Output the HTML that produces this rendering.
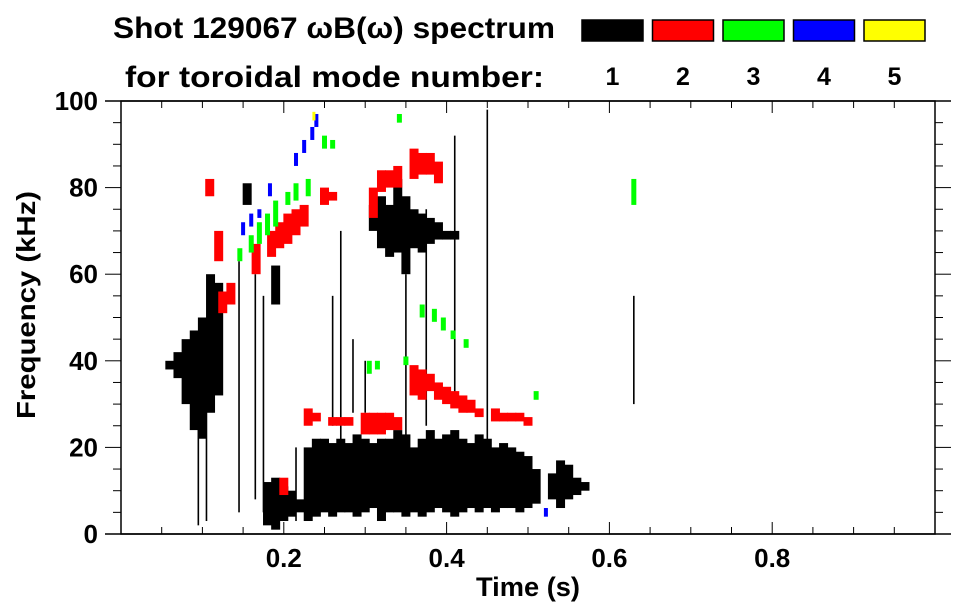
<!DOCTYPE html>
<html><head><meta charset="utf-8">
<style>
html,body{margin:0;padding:0;background:#fff;}
svg{display:block;font-family:"Liberation Sans",sans-serif;font-weight:bold;}
</style></head>
<body>
<svg id="chart" width="963" height="615" viewBox="0 0 963 615" xmlns="http://www.w3.org/2000/svg">
<text x="113" y="38" font-size="30" textLength="442" lengthAdjust="spacingAndGlyphs">Shot 129067 ωB(ω) spectrum</text>
<text x="125" y="87" font-size="30" textLength="419" lengthAdjust="spacingAndGlyphs">for toroidal mode number:</text>
<g id="legend"></g>
<g id="marks"></g>
<g id="axes"></g>
<text x="528" y="596" font-size="27" text-anchor="middle" textLength="104" lengthAdjust="spacingAndGlyphs">Time (s)</text>
<text transform="translate(35,305) rotate(-90)" font-size="26" text-anchor="middle" textLength="228" lengthAdjust="spacingAndGlyphs">Frequency (kHz)</text>
</svg>
<script>
// ---- data ----
const modeNames = ["1","2","3","4","5"];
const modeColors = ["#000000","#ff0000","#00ff00","#0000ff","#ffff00"];
const xTicks = [0.2,0.4,0.6,0.8];
const yTicks = [0,20,40,60,80,100];
// mode 1 (black) columns: time, low freq, high freq
const m1T  = [0.06,0.07,0.08,0.09,0.10,0.11,0.12, 0.18,0.19,0.20,0.21,0.22,
  0.23,0.24,0.25,0.26,0.27,0.28,0.29,0.30,0.31,0.32,0.33,0.34,0.35,0.36,0.37,0.38,0.39,0.40,0.41,0.42,0.43,0.44,0.45,0.46,0.47,0.48,0.49,0.50,0.51,
  0.53,0.54,0.55,0.56,0.57,
  0.31,0.32,0.33,0.34,0.35,0.36,0.37,0.38,0.39,0.40,0.41, 0.155,0.19];
const m1Lo = [38,36,30,24,22,28,32, 2,1,3,4,5,
  3,4,5,4,5,5,4,5,6,3,5,5,4,5,4,5,6,5,4,5,6,5,6,5,6,6,5,6,7,
  8,6,8,9,10,
  70,66,64,65,60,66,65,67,68,68,68, 76,53];
const m1Hi = [40,42,45,47,50,60,58, 12,13,11,10,8,
  20,22,22,21,22,21,23,22,21,22,22,24,23,20,22,24,22,23,24,22,21,23,22,20,21,20,19,18,15,
  14,17,16,13,12,
  76,78,76,82,78,75,74,73,72,70,70, 81,62];
// mode 1 thin streaks
const s1T  = [0.45,0.41,0.375,0.35,0.27,0.26,0.285,0.30,0.145,0.165,0.175,0.095,0.63,0.105,0.215];
const s1Lo = [20,30,25,20,20,25,28,28,5,8,5,2,30,3,3];
const s1Hi = [98,92,75,60,70,55,45,40,63,60,55,35,55,40,20];
// mode 2 (red)
const m2T  = [0.109,0.12,0.125,0.135,0.166,0.185,0.195,0.205,0.215,0.225,0.25,0.26,0.31,0.32,0.33,0.34,0.36,0.37,0.38,0.39,
  0.23,0.24,0.26,0.27,0.28,0.30,0.31,0.32,0.33,0.34,0.36,0.37,0.38,0.39,0.40,0.41,0.42,0.43,0.44,0.46,0.47,0.48,0.49,0.50,0.20];
const m2Lo = [78,63,51,53,60,64,66,67,69,71,76,77,73,79,80,80,82,83,83,81,
  25,26,25,25,25,23,23,23,24,24,32,31,33,31,30,29,28,28,27,26,26,26,26,25,9];
const m2Hi = [82,70,56,58,67,70,72,74,75,76,80,79,80,84,84,85,89,88,88,86,
  29,28,27,27,27,28,28,28,28,27,39,38,37,35,34,33,32,31,29,29,28,28,28,27,13];
// mode 3 (green)
const m3T  = [0.146,0.16,0.17,0.18,0.19,0.205,0.215,0.23,0.25,0.26,0.342,0.37,0.385,0.396,0.408,0.424,0.35,0.305,0.315,0.51,0.63];
const m3Lo = [63,65,67,69,71,76,77,78,89,89,95,50,49,47,45,43,39,37,38,31,76];
const m3Hi = [66,69,72,74,77,79,81,82,92,91,97,53,52,50,47,45,41,40,40,33,82];
// mode 4 (blue)
const m4T  = [0.15,0.16,0.17,0.183,0.215,0.225,0.235,0.24,0.522];
const m4Lo = [69,71,73,78,85,88,91,94,4];
const m4Hi = [72,74,75,81,88,91,94,97,6];
// mode 5 (yellow)
const m5T = [0.237]; const m5Lo = [95.5]; const m5Hi = [97.5];

// ---- scales ----
const L=121,R=935,T=101,B=534;
const xs = t => L + t*(R-L);
const ys = f => B - f*(B-T)/100;
const NS="http://www.w3.org/2000/svg";
function mk(tag, attrs, parent){const e=document.createElementNS(NS,tag);for(const k in attrs)e.setAttribute(k,attrs[k]);parent.appendChild(e);return e;}

// legend
const lg=document.getElementById('legend');
modeNames.forEach((n,i)=>{
  const x=582+i*70.5;
  const r=mk('rect',{x:x,y:20,width:61,height:21,fill:modeColors[i],stroke:'#000','stroke-width':1.5},lg);
  
  
  const t=mk('text',{x:x+30.5,y:85,'font-size':25,'text-anchor':'middle'},lg);
  t.textContent=n;
  
  
});

// marks
const mg=document.getElementById('marks');
function cols(T_,Lo,Hi,color,w,name){
  T_.forEach((t,i)=>{
    const r=mk('rect',{x:xs(t)-w/2,y:ys(Hi[i]),width:w,height:ys(Lo[i])-ys(Hi[i]),fill:color},mg);
    
    
  });
}
cols(s1T,s1Lo,s1Hi,'#000',1.6,'mode1-streak');
cols(m1T,m1Lo,m1Hi,'#000',9,'mode1-column');
cols(m2T,m2Lo,m2Hi,'#ff0000',9,'mode2-column');
cols(m3T,m3Lo,m3Hi,'#00ff00',5,'mode3-column');
cols(m4T,m4Lo,m4Hi,'#0000ff',4,'mode4-column');
cols(m5T,m5Lo,m5Hi,'#ffff00',3,'mode5-column');

// axes
const ax=document.getElementById('axes');
mk('rect',{x:L,y:T,width:R-L,height:B-T,fill:'none',stroke:'#000','stroke-width':1.5},ax);
mk('line',{x1:105,y1:B,x2:R+16,y2:B,stroke:'#000','stroke-width':1.5},ax);
mk('line',{x1:105,y1:T,x2:R+16,y2:T,stroke:'#000','stroke-width':1.5},ax);
for(let k=1;k<20;k++){const t=k*0.05;const big=k%4===0;
  mk('line',{x1:xs(t),y1:B,x2:xs(t),y2:B-(big?12:7),stroke:'#000','stroke-width':1},ax);
  mk('line',{x1:xs(t),y1:T,x2:xs(t),y2:T+(big?12:7),stroke:'#000','stroke-width':1},ax);}
for(let k=1;k<20;k++){const f=k*5;const big=k%4===0;
  mk('line',{x1:L,y1:ys(f),x2:L-(big?16:8),y2:ys(f),stroke:'#000','stroke-width':1},ax);
  mk('line',{x1:R,y1:ys(f),x2:R+(big?16:8),y2:ys(f),stroke:'#000','stroke-width':1},ax);}
xTicks.forEach(v=>{const t=mk('text',{x:xs(v),y:567,'font-size':26,'text-anchor':'middle'},ax);t.textContent=v.toFixed(1);
  
  });
yTicks.forEach(v=>{const t=mk('text',{x:98,y:ys(v)+9,'font-size':26,'text-anchor':'end'},ax);t.textContent=v;
  
  });
</script>
</body></html>
